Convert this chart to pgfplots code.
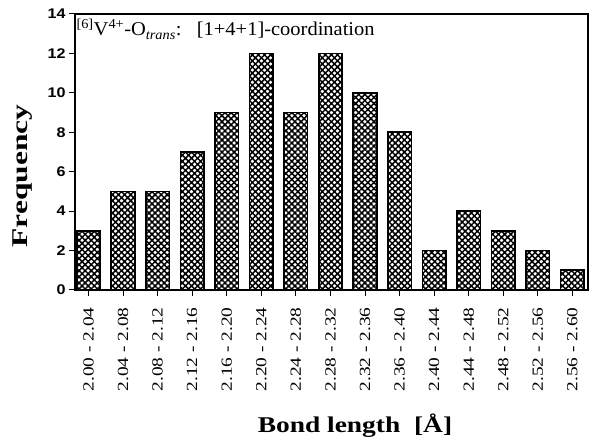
\documentclass[border=0pt]{standalone}
\usepackage{fontspec}
\setmainfont{Liberation Serif}[FakeStretch=1.05]
\setsansfont{Liberation Sans}[FakeStretch=1.15]
\newfontfamily\tickfont{Liberation Serif}[FakeStretch=1.25]
\newfontfamily\freqfont{Liberation Serif}[FakeStretch=1.4]
\newfontfamily\bondfont{Liberation Serif}[FakeStretch=1.22]
\usepackage{pgfplots}
\usetikzlibrary{patterns.meta}
\pgfplotsset{compat=1.18}

\begin{document}
\begin{tikzpicture}
  \begin{axis}[
      scale only axis, width=513pt, height=276pt,
      ybar, bar width=0.68,
      xmin=-0.39, xmax=14.45, ymin=0, ymax=14,
      xtick=data,
      xticklabels={2.00 - 2.04, 2.04 - 2.08, 2.08 - 2.12, 2.12 - 2.16, 2.16 - 2.20,
        2.20 - 2.24, 2.24 - 2.28, 2.28 - 2.32, 2.32 - 2.36, 2.36 - 2.40,
        2.40 - 2.44, 2.44 - 2.48, 2.48 - 2.52, 2.52 - 2.56, 2.56 - 2.60},
      ytick={0,2,...,14},
      tick align=outside, xtick pos=bottom, ytick pos=left,
      major tick length=6pt,
      axis line style={line width=1.2pt},
      tick style={line width=1pt, black},
      /pgf/number format/assume math mode=true,
      yticklabel style={font=\sffamily\bfseries\fontsize{14}{14}\selectfont},
      xticklabel style={font=\tickfont\fontsize{15.5}{15.5}\selectfont, yshift=-8pt, rotate=90, anchor=east},
    ]
    \addplot[draw=black, line width=1.6pt,
      pattern={Hatch[angle=45,distance=4.3pt,line width=1.5pt]}, pattern color=black]
      coordinates {(0,3)(1,5)(2,5)(3,7)(4,9)(5,12)(6,9)(7,12)(8,10)(9,8)
        (10,2)(11,4)(12,3)(13,2)(14,1)};
  \end{axis}
  \node[anchor=base west, font=\fontsize{19.5}{19.5}\selectfont] at (-2pt,254pt)
    {\textsuperscript{[6]}V\textsuperscript{4+}-O\textsubscript{\textit{trans}}:\ \ \ [1+4+1]-coordination};
  \node[rotate=90, font=\freqfont\bfseries\fontsize{22.5}{22.5}\selectfont] at (-52pt,114pt) {Frequency};
  \node[font=\bondfont\bfseries\fontsize{22.5}{22.5}\selectfont] at (280pt,-136pt) {Bond length\ \ [Å]};
  \pgfresetboundingbox
  \path (-75pt,-151pt) rectangle (514pt,290pt);
\end{tikzpicture}
\end{document}
